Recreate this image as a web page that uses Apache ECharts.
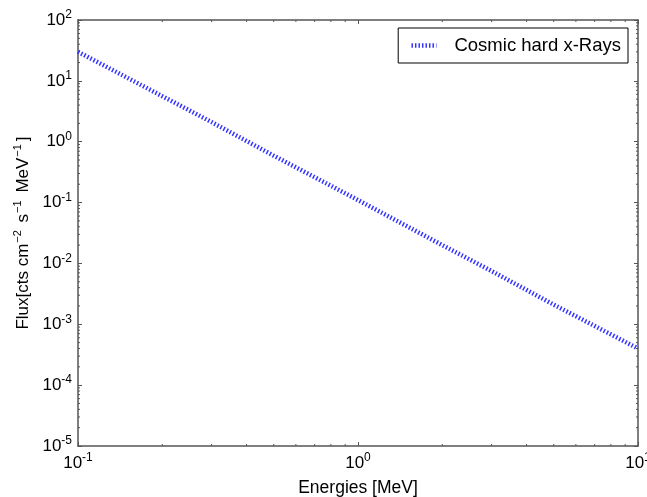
<!DOCTYPE html>
<html><head><meta charset="utf-8">
<script src="https://cdn.jsdelivr.net/npm/echarts@6/dist/echarts.min.js"></script>
<style>html,body{margin:0;padding:0;background:#fff}#c{width:647px;height:497px}</style>
</head><body><div id="c"></div>
<script>
// Data
const energies = [0.1, 0.2, 0.3, 0.5, 1, 2, 3, 5, 10];
const flux = [30, 5.6, 2.1, 0.59, 0.11, 0.02, 0.0075, 0.0021, 0.0004];
const seriesName = 'Cosmic hard x-Rays';
const xRange = [0.1, 10];
const yRange = [1e-5, 100];
const minorX = [0.2, 0.3, 0.4, 0.5, 0.6, 0.7, 0.8, 0.9, 2, 3, 4, 5, 6, 7, 8, 9];
const minorMult = [2, 3, 4, 5, 6, 7, 8, 9];
const yDecades = [1e-5, 1e-4, 1e-3, 1e-2, 1e-1, 1, 10];

const FONT = 'Liberation Sans, Arial, sans-serif';
const AX = '#555';
const LINE_COLOR = '#3535ff';

const minorY = [];
yDecades.forEach(d => minorMult.forEach(m => minorY.push(+(d * m).toPrecision(3))));

function expLabel(v) {
  const e = Math.round(Math.log10(v));
  return '{b|10}{s|' + e + '}';
}
const tickRich = {
  b: {fontSize: 17, fontFamily: FONT, color: '#000', lineHeight: 22},
  s: {fontSize: 12, fontFamily: FONT, color: '#000', lineHeight: 12, verticalAlign: 'top'}
};

function axisCommon(extra) {
  return Object.assign({
    type: 'log', logBase: 10,
    axisLine: {show: true, onZero: false, lineStyle: {color: AX, width: 1.5}},
    axisTick: {show: true, inside: true, length: 4, lineStyle: {color: AX, width: 1}},
    splitLine: {show: false},
    minorTick: {show: false},
    minorSplitLine: {show: false}
  }, extra);
}

const chart = echarts.init(document.getElementById('c'), null, {renderer: 'canvas'});
chart.setOption({
  backgroundColor: '#fff',
  animation: false,
  grid: {left: 78, right: 9, top: 20, bottom: 51, containLabel: false, outerBoundsMode: 'none'},
  legend: {
    data: [seriesName],
    right: 19, top: 28,
    padding: [8, 7, 8, 11],
    borderColor: '#000', borderWidth: 1, borderRadius: 0,
    backgroundColor: '#fff',
    itemWidth: 25, itemHeight: 14,
    textStyle: {fontSize: 18.5, fontFamily: FONT, color: '#000', padding: [0, 0, 0, 13]},
    itemStyle: {opacity: 0},
    lineStyle: {width: 4.5, type: [1.5, 2], color: LINE_COLOR}
  },
  xAxis: [
    axisCommon({
      min: xRange[0], max: xRange[1], position: 'bottom',
      name: 'Energies [MeV]', nameLocation: 'middle', nameGap: 33,
      nameTextStyle: {fontSize: 17.5, fontFamily: FONT, color: '#000'},
      axisLabel: {margin: 6, formatter: expLabel, rich: tickRich}
    }),
    axisCommon({
      min: xRange[0], max: xRange[1], position: 'top',
      axisLabel: {show: false}
    })
  ],
  yAxis: [
    axisCommon({
      min: yRange[0], max: yRange[1], position: 'left',
      name: '{n|Flux[cts cm}{s|−2}{n| s}{s|−1}{n| MeV}{s|−1}{n|]}',
      nameLocation: 'middle', nameGap: 37, nameRotate: 90,
      nameTextStyle: {
        fontSize: 17, fontFamily: FONT, color: '#000',
        rich: {
          n: {fontSize: 17, fontFamily: FONT, color: '#000', lineHeight: 22},
          s: {fontSize: 11, fontFamily: FONT, color: '#000', lineHeight: 11, verticalAlign: 'top', padding: [0, 3, 0, 1]}
        }
      },
      axisLabel: {margin: 6, formatter: expLabel, rich: tickRich}
    }),
    axisCommon({
      min: yRange[0], max: yRange[1], position: 'right',
      axisLabel: {show: false}
    })
  ],
  series: [
    {
      name: seriesName, type: 'line',
      data: energies.map((e, i) => [e, flux[i]]),
      showSymbol: false, symbol: 'none',
      lineStyle: {color: LINE_COLOR, width: 4.5, type: [1.5, 2]},
      itemStyle: {color: LINE_COLOR},
      z: 5
    },
    {
      name: 'minorX', type: 'custom', silent: true,
      data: minorX.map(v => [v, yRange[0]]),
      renderItem: function (params, api) {
        const v = api.value(0);
        const b = api.coord([v, yRange[0]]);
        const t = api.coord([v, yRange[1]]);
        const st = {stroke: AX, lineWidth: 1};
        return {type: 'group', children: [
          {type: 'line', shape: {x1: b[0], y1: b[1], x2: b[0], y2: b[1] - 2}, style: st},
          {type: 'line', shape: {x1: t[0], y1: t[1], x2: t[0], y2: t[1] + 2}, style: st}
        ]};
      }
    },
    {
      name: 'minorY', type: 'custom', silent: true,
      data: minorY.map(v => [xRange[0], v]),
      renderItem: function (params, api) {
        const v = api.value(1);
        const l = api.coord([xRange[0], v]);
        const r = api.coord([xRange[1], v]);
        const st = {stroke: AX, lineWidth: 1};
        return {type: 'group', children: [
          {type: 'line', shape: {x1: l[0], y1: l[1], x2: l[0] + 2, y2: l[1]}, style: st},
          {type: 'line', shape: {x1: r[0], y1: r[1], x2: r[0] - 2, y2: r[1]}, style: st}
        ]};
      }
    }
  ]
});
</script>
</body></html>
